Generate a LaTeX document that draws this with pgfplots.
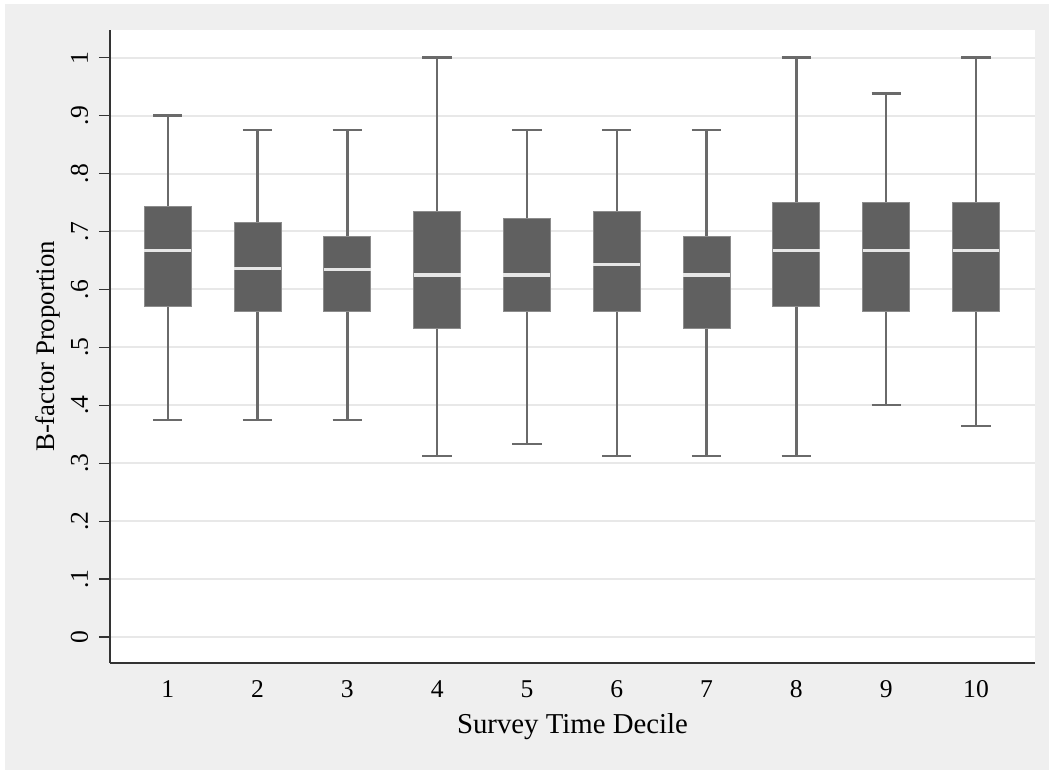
\documentclass[border=0pt]{standalone}
\usepackage{fontspec}
\setmainfont{Liberation Serif}
\usepackage{pgfplots}
\pgfplotsset{compat=1.18}
\usepgfplotslibrary{statistics}
\definecolor{bggray}{HTML}{EFEFEF}
\definecolor{gridgray}{HTML}{E8E8E8}
\definecolor{boxgray}{HTML}{606060}
\definecolor{boxedge}{HTML}{8C8C8C}
\definecolor{whiskgray}{HTML}{6A6A6A}
\definecolor{medgray}{HTML}{E6E6E6}
\definecolor{axgray}{HTML}{333333}
\begin{document}
\fontsize{12.8}{15}\selectfont
\begin{tikzpicture}
\fill[white] (-55pt,-53.5pt) rectangle (469.5pt,331.5pt);
\fill[bggray] (-52.5pt,-53.5pt) rectangle (469.5pt,329.5pt);
\useasboundingbox (-55pt,-53.5pt) rectangle (469.5pt,331.5pt);
\begin{axis}[
  at={(0,0)}, anchor=south west,
  scale only axis, width=462.5pt, height=316.5pt,
  xmin=0.357, xmax=10.657, ymin=-0.0449, ymax=1.0478,
  axis x line*=bottom, axis y line*=left,
  axis line style={draw=axgray, line width=0.7pt},
  axis background/.style={fill=white},
  xtick={1,2,3,4,5,6,7,8,9,10},
  xtick style={draw=none},
  ytick={0,0.1,0.2,0.3,0.4,0.5,0.6,0.7,0.8,0.9,1},
  yticklabels={0,.1,.2,.3,.4,.5,.6,.7,.8,.9,1},
  ytick style={draw=axgray, line width=0.6pt},
  tick align=outside, major tick length=5.5pt,
  ymajorgrids, major grid style={draw=gridgray, line width=1pt},
  /pgf/number format/assume math mode=true,
  yticklabel style={rotate=90, anchor=base, inner sep=0pt},
  xticklabel style={anchor=base, inner sep=0pt},
  yticklabel shift=5.5pt,
  xticklabel shift=12pt,
  xlabel={Survey Time Decile},
  ylabel={B-factor Proportion},
  xlabel style={at={(axis description cs:0.5,-0.1106)}, anchor=base, inner sep=0pt, font=\fontsize{14.4}{17}\selectfont},
  ylabel style={at={(axis description cs:-0.0603,0.5)}, anchor=base, rotate=0, inner sep=0pt, font=\fontsize{13.4}{16}\selectfont},
  boxplot/draw direction=y,
  boxplot/every box/.style={fill=boxgray, draw=boxedge, line width=0.5pt},
  boxplot/every whisker/.style={draw=whiskgray, line width=1.2pt},
  boxplot/every median/.style={draw=medgray, line width=1.6pt},
  boxplot/box extend=0.523,
  boxplot/whisker extend=0.327,
  clip=false,
]
\addplot[boxplot prepared={draw position=1, lower whisker=0.375, lower quartile=0.570, median=0.667, upper quartile=0.743, upper whisker=0.900}] coordinates {};
\addplot[boxplot prepared={draw position=2, lower whisker=0.375, lower quartile=0.561, median=0.636, upper quartile=0.716, upper whisker=0.875}] coordinates {};
\addplot[boxplot prepared={draw position=3, lower whisker=0.375, lower quartile=0.561, median=0.634, upper quartile=0.691, upper whisker=0.875}] coordinates {};
\addplot[boxplot prepared={draw position=4, lower whisker=0.3125, lower quartile=0.532, median=0.625, upper quartile=0.735, upper whisker=1.000}] coordinates {};
\addplot[boxplot prepared={draw position=5, lower whisker=0.333, lower quartile=0.561, median=0.625, upper quartile=0.722, upper whisker=0.875}] coordinates {};
\addplot[boxplot prepared={draw position=6, lower whisker=0.3125, lower quartile=0.561, median=0.643, upper quartile=0.735, upper whisker=0.875}] coordinates {};
\addplot[boxplot prepared={draw position=7, lower whisker=0.3125, lower quartile=0.532, median=0.625, upper quartile=0.691, upper whisker=0.875}] coordinates {};
\addplot[boxplot prepared={draw position=8, lower whisker=0.3125, lower quartile=0.570, median=0.667, upper quartile=0.750, upper whisker=1.000}] coordinates {};
\addplot[boxplot prepared={draw position=9, lower whisker=0.400, lower quartile=0.561, median=0.667, upper quartile=0.750, upper whisker=0.938}] coordinates {};
\addplot[boxplot prepared={draw position=10, lower whisker=0.364, lower quartile=0.561, median=0.667, upper quartile=0.750, upper whisker=1.000}] coordinates {};
\end{axis}
\end{tikzpicture}
\end{document}
